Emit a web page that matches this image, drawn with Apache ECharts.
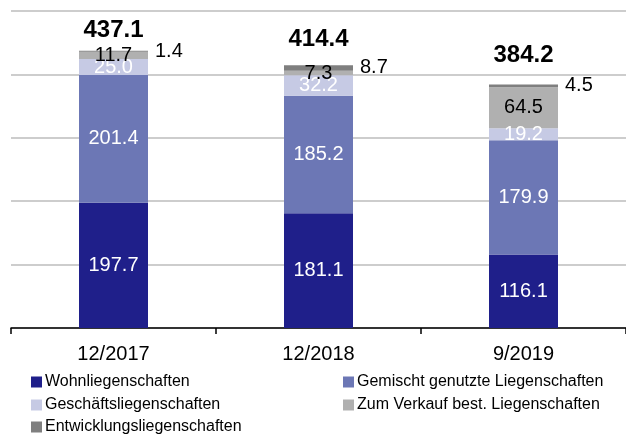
<!DOCTYPE html>
<html><head><meta charset="utf-8">
<script src="https://cdn.jsdelivr.net/npm/echarts@6/dist/echarts.min.js"></script>
<style>html,body{margin:0;padding:0;background:#fff}#c{width:626px;height:435px}</style>
</head><body><div id="c"></div>
<script>
var categories = ['12/2017', '12/2018', '9/2019'];
var wohn = [197.7, 181.1, 116.1];
var gemischt = [201.4, 185.2, 179.9];
var geschaeft = [25.0, 32.2, 19.2];
var verkauf = [11.7, 7.3, 64.5];
var entwicklung = [1.4, 8.7, 4.5];
var totals = [437.1, 414.4, 384.2];
var seriesNames = ['Wohnliegenschaften', 'Gemischt genutzte Liegenschaften', 'Geschäftsliegenschaften', 'Zum Verkauf best. Liegenschaften', 'Entwicklungsliegenschaften'];

var colors = ['#1F1F8A', '#6C77B5', '#C6CAE4', '#B0B0B0', '#7F7F7F'];
var labelColors = ['#fff', '#fff', '#fff', '#000', '#000'];
var numFont = '"Liberation Sans", Arial, sans-serif';
var dataSets = [wohn, gemischt, geschaeft, verkauf, entwicklung];
var totalDist = [8, 14, 17];

var series = dataSets.map(function (d, i) {
  return {
    name: seriesNames[i], type: 'bar', stack: 'a', barWidth: 69,
    itemStyle: { color: colors[i] },
    label: {
      show: true,
      position: i === 4 ? 'right' : 'inside',
      distance: 7,
      color: labelColors[i], fontFamily: numFont, fontSize: 20,
      formatter: function (p) { return p.value.toFixed(1); }
    },
    data: d
  };
});
series.push({
  name: 'total', type: 'bar', stack: 'a', barWidth: 69,
  itemStyle: { color: 'transparent' },
  data: totals.map(function (t, i) {
    return { value: 0, label: { show: true, position: 'top', distance: totalDist[i],
      formatter: t.toFixed(1), fontFamily: numFont, fontSize: 24, fontWeight: 'bold', color: '#000' } };
  })
});

// legend layout: [seriesIndex, left, centerY]
var legendPos = [[0, 31, 382], [1, 343, 382], [2, 31, 405], [3, 343, 405], [4, 31, 427]];
var legends = legendPos.map(function (p) {
  return {
    left: p[1], top: p[2] - 9, padding: 0, orient: 'horizontal',
    itemWidth: 11, itemHeight: 11, itemGap: 0, icon: 'rect',
    textStyle: { fontFamily: numFont, fontSize: 16, color: '#000', padding: [0, 0, 0, -2], lineHeight: 18 },
    data: [seriesNames[p[0]]]
  };
});

var chart = echarts.init(document.getElementById('c'));
chart.setOption({
  animation: false,
  grid: { left: 11, right: -6, top: 11, bottom: 107 },
  xAxis: {
    type: 'category', data: categories,
    axisLine: { lineStyle: { color: '#000', width: 1.5 } },
    axisTick: { show: true, length: 6, lineStyle: { color: '#000', width: 1.5 } },
    axisLabel: { fontFamily: numFont, fontSize: 20, color: '#000', margin: 16 }
  },
  yAxis: {
    type: 'value', min: 0, max: 500, interval: 100,
    axisLabel: { show: false }, axisLine: { show: false }, axisTick: { show: false },
    splitLine: { lineStyle: { color: '#BDBDBD', width: 1.5 } }
  },
  legend: legends,
  series: series
});
</script></body></html>
